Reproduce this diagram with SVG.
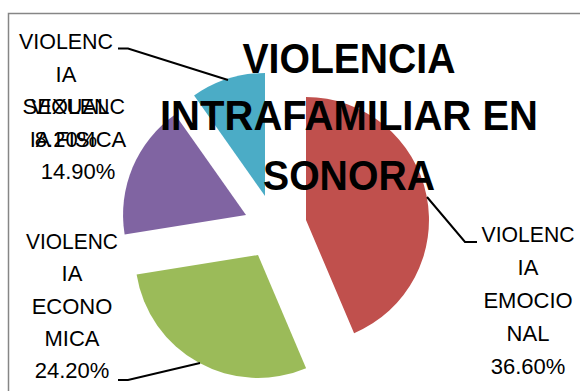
<svg xmlns="http://www.w3.org/2000/svg" width="580" height="391" viewBox="0 0 580 391">
<style>
.lbl{font-family:"Liberation Sans",Arial,sans-serif;font-size:22px;fill:#000;text-anchor:middle}
.ttl{font-family:"Liberation Sans",Arial,sans-serif;font-size:43px;font-weight:bold;fill:#000;text-anchor:middle}
.lead{fill:none;stroke:#000;stroke-width:2}
</style>
<rect x="8.5" y="13.5" width="600" height="400" fill="#fff" stroke="#868686" stroke-width="1.5"/>
<g id="slice-emocional"><path d="M306,220 L306,97 A123,123 0 0 1 354.1,333.2 Z" fill="#C0504D"/></g>
<g id="slice-economica"><path d="M258,255 L306.1,368.2 A123,123 0 0 1 136.6,274.5 Z" fill="#9BBB59"/></g>
<g id="slice-fisica"><path d="M246,215 L124.6,234.5 A123,123 0 0 1 175.1,114.5 Z" fill="#8064A2"/></g>
<g id="slice-sexual"><path d="M265,196 L194.1,95.5 A123,123 0 0 1 265,73 Z" fill="#4BACC6"/></g>
<g id="connectors">
<polyline class="lead" points="118,48.5 128,48.5 228,80"/>
<polyline class="lead" points="118,380 128,380 200,363"/>
<polyline class="lead" points="427,197 465,242 477,242"/>
</g>
<g id="title">
<text class="ttl" x="349" y="73" textLength="213" lengthAdjust="spacingAndGlyphs">VIOLENCIA</text>
<text class="ttl" x="349" y="130" textLength="378" lengthAdjust="spacingAndGlyphs">INTRAFAMILIAR EN</text>
<text class="ttl" x="349" y="190" textLength="172" lengthAdjust="spacingAndGlyphs">SONORA</text>
</g>
<g id="label-sexual">
<text class="lbl" x="66" y="49" textLength="94" lengthAdjust="spacingAndGlyphs">VIOLENC</text>
<text class="lbl" x="66" y="81.5">IA</text>
<text class="lbl" x="66" y="114">SEXUAL</text>
<text class="lbl" x="66" y="146.5">8.20%</text>
</g>
<g id="label-fisica">
<text class="lbl" x="78" y="114" textLength="94" lengthAdjust="spacingAndGlyphs">VIOLENC</text>
<text class="lbl" x="78" y="146.5">IA FISICA</text>
<text class="lbl" x="78" y="179">14.90%</text>
</g>
<g id="label-economica">
<text class="lbl" x="72" y="249" textLength="92" lengthAdjust="spacingAndGlyphs">VIOLENC</text>
<text class="lbl" x="72" y="281">IA</text>
<text class="lbl" x="72" y="313.5">ECONO</text>
<text class="lbl" x="72" y="346">MICA</text>
<text class="lbl" x="72" y="378">24.20%</text>
</g>
<g id="label-emocional">
<text class="lbl" x="528" y="242" textLength="93" lengthAdjust="spacingAndGlyphs">VIOLENC</text>
<text class="lbl" x="528" y="275">IA</text>
<text class="lbl" x="528" y="308">EMOCIO</text>
<text class="lbl" x="528" y="341">NAL</text>
<text class="lbl" x="528" y="374">36.60%</text>
</g>
</svg>
